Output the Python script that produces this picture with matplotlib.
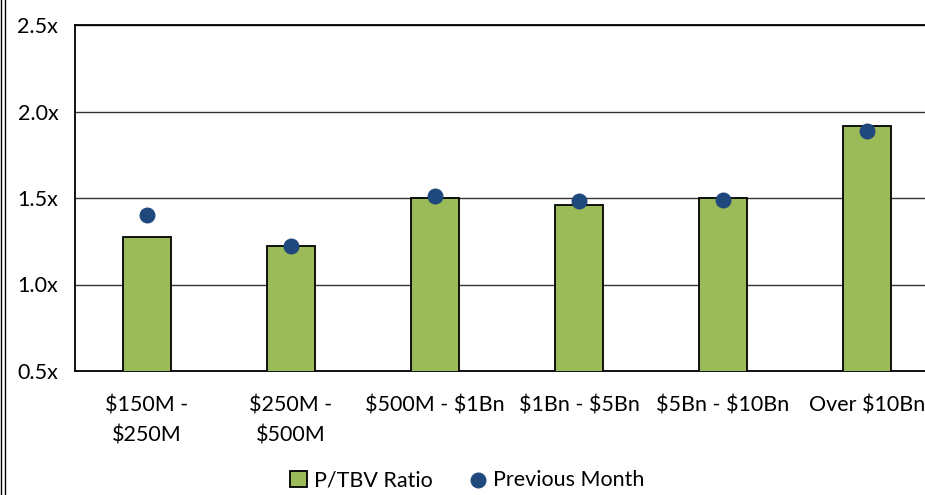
import matplotlib
matplotlib.use("Agg")
import matplotlib.pyplot as plt
from matplotlib.lines import Line2D
import numpy as np

categories = ["$150M -\n$250M", "$250M -\n$500M", "$500M - $1Bn", "$1Bn - $5Bn", "$5Bn - $10Bn", "Over $10Bn"]
ptbv = [1.275, 1.22, 1.50, 1.46, 1.50, 1.915]
prev_month = [1.40, 1.22, 1.51, 1.48, 1.49, 1.89]
yticks = [0.5, 1.0, 1.5, 2.0, 2.5]
ytick_labels = ["0.5x", "1.0x", "1.5x", "2.0x", "2.5x"]

plt.rcParams['font.family'] = ['Lato', 'DejaVu Sans']
plt.rcParams['text.parse_math'] = False

fig = plt.figure(figsize=(9.25, 4.95), dpi=100)
ax = fig.add_axes([75/925, 1-371/495, 864/925, 346/495])

x = np.arange(len(categories))
bars = ax.bar(x, ptbv, width=0.33, color="#9BBB59", edgecolor="black", linewidth=1.3, zorder=3, label="P/TBV Ratio")
pts = ax.scatter(x, prev_month, s=110, color="#1F497D", zorder=4, label="Previous Month")

ax.set_xlim(-0.5, len(categories) - 0.5)
ax.set_ylim(0.5, 2.5)
ax.set_yticks(yticks)
ax.set_yticklabels(ytick_labels)
ax.set_xticks(x)
ax.set_xticklabels(categories, linespacing=1.6)
ax.tick_params(axis='both', length=0, labelsize=15.5, colors="black")
ax.tick_params(axis='y', pad=12)
ax.tick_params(axis='x', pad=18)
ax.yaxis.grid(True, color="#333333", linewidth=1.0, zorder=0)
ax.set_axisbelow(True)
for s in ["left", "bottom", "top"]:
    ax.spines[s].set_linewidth(1.3)
    ax.spines[s].set_color("black")
ax.spines["right"].set_visible(False)

leg = fig.legend([bars, pts], ["P/TBV Ratio", "Previous Month"], loc="lower center",
                 bbox_to_anchor=(0.505, -0.03), ncol=2, frameon=False,
                 fontsize=15.5, handlelength=0.8, handleheight=0.8, handletextpad=0.3, columnspacing=1.7)

fig.add_artist(Line2D([1/925, 1/925], [0, 1], color="black", linewidth=1.0))
fig.add_artist(Line2D([5/925, 5/925], [0, 1], color="black", linewidth=1.0))

fig.savefig("out.png", dpi=100)
